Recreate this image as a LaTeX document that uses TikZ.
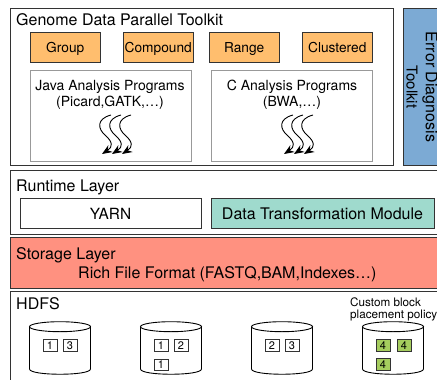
\documentclass[tikz,border=0pt]{standalone}
\usepackage{fontspec}
\setmainfont{TeX Gyre Heros}
\usetikzlibrary{arrows.meta}

\definecolor{toolorange}{HTML}{FFBE6E}
\definecolor{errorblue}{HTML}{7CAAD4}
\definecolor{moduleteal}{HTML}{9FDACD}
\definecolor{storagered}{HTML}{FF9180}
\definecolor{blockgreen}{HTML}{A5CC5E}
\definecolor{edge}{HTML}{333333}

\tikzset{
    layer/.style={draw=edge,line width=1pt,inner sep=0pt,outer sep=0pt,anchor=north west},
    tool/.style={layer,fill=toolorange,minimum width=70.5pt,minimum height=30pt,text height=10.5pt,text depth=0pt,font=\fontsize{13.7}{15}\selectfont},
    prog/.style={draw=gray!80,line width=1pt,inner sep=0pt,outer sep=0pt,anchor=north west,minimum width=161pt,minimum height=91pt},
    title/.style={inner sep=0pt,anchor=base west,font=\fontsize{16}{17}\selectfont},
    caption/.style={inner sep=0pt,anchor=base,font=\fontsize{14}{15}\selectfont},
    small/.style={inner sep=0pt,anchor=base west,font=\fontsize{11.7}{12}\selectfont},
    disk/.style={draw=black,line width=0.9pt},
    block/.style={draw=edge,line width=0.8pt,inner sep=0pt,outer sep=0pt,minimum width=14pt,minimum height=11.5pt,font=\fontsize{11}{11}\selectfont},
    flow/.style={-{Stealth[length=10pt,width=8pt]},line width=0.9pt},
}

\begin{document}
\begin{tikzpicture}[x=1pt,y=-1pt]
    \useasboundingbox (0,0) rectangle (437,380);

    % toolkit
    \node[layer,minimum width=383pt,minimum height=157.5pt] (genome) at (10,8) {};
    \node[layer,fill=errorblue,minimum width=45pt,minimum height=157.5pt] (error) at (403,8) {};
    \node[title] (genomet) at (16,26) {Genome Data Parallel Toolkit};
    \node[rotate=-90,inner sep=0pt,font=\fontsize{16}{17}\selectfont] (errora) at (430,87) {Error Diagnosis};
    \node[rotate=-90,inner sep=0pt,font=\fontsize{15}{17}\selectfont] (errorb) at (412,87) {Toolkit};

    \node[tool] (group) at (30,32) {Group};
    \node[tool] (compound) at (123,32) {Compound};
    \node[tool] (range) at (209,32) {Range};
    \node[tool] (clustered) at (302,32) {Clustered};

    \node[prog] (java) at (30,70) {};
    \node[prog] (cprog) at (211.5,70) {};
    \node[caption] (javaa) at (110,90) {Java Analysis Programs};
    \node[caption] (javab) at (110,106) {(Picard,GATK,…)};
    \node[caption] (ca) at (292,90) {C Analysis Programs};
    \node[caption] (cb) at (292,106) {(BWA,…)};

    % squiggles
    \foreach \n/\x in {a/0,b/10,c/20,d/182,e/192,f/202}{
        \coordinate (s\n) at (111+\x,115);
        \coordinate (t\n) at (102+\x,154);
        \draw[flow] (s\n) .. controls (96+\x,119) and (98+\x,129) .. (105+\x,135)
            .. controls (113+\x,142) and (113+\x,147) .. (t\n);
    }

    % runtime
    \node[layer,minimum width=440pt,minimum height=64pt] (runtime) at (10,170) {};
    \node[title] (runtimet) at (16,191) {Runtime Layer};
    \node[layer,minimum width=181pt,minimum height=30pt,text height=12pt,text depth=0pt,font=\fontsize{15.4}{16}\selectfont] (yarn) at (20,198) {YARN};
    \node[layer,fill=moduleteal,minimum width=223pt,minimum height=30pt,text height=12pt,text depth=0pt,font=\fontsize{16}{17}\selectfont] (trans) at (211,198) {Data Transformation Module};

    % storage
    \node[layer,fill=storagered,minimum width=440pt,minimum height=51pt] (storage) at (10,237) {};
    \node[title] (storaget) at (16,259) {Storage Layer};
    \node[title] (rich) at (78,278) {Rich File Format (FASTQ,BAM,Indexes…)};

    % hdfs
    \node[layer,minimum width=440pt,minimum height=100pt] (hdfs) at (10,291) {};
    \node[title] (hdfst) at (16,309) {HDFS};
    \node[small] (custa) at (350,306) {Custom block};
    \node[small] (custb) at (350,318) {placement policy};

    % disks
    \foreach \x in {60,171,282,393}{
        \draw[disk] (\x,326.7) ellipse [x radius=30.5pt,y radius=5pt];
        \draw[disk] (\x-30.5,326.7) -- (\x-30.5,369)
            .. controls (\x-30.5,376) and (\x+30.5,376) .. (\x+30.5,369) -- (\x+30.5,326.7);
    }

    \node[block] (a1) at (50,345.5) {1};
    \node[block] (a3) at (70,345.5) {3};
    \node[block] (b1) at (161,345.5) {1};
    \node[block] (b2) at (181,345.5) {2};
    \node[block] (b3) at (161,365) {1};
    \node[block] (c2) at (272,345.5) {2};
    \node[block] (c3) at (292,345.5) {3};
    \node[block,fill=blockgreen] (d1) at (383,345.5) {4};
    \node[block,fill=blockgreen] (d2) at (404,345.5) {4};
    \node[block,fill=blockgreen] (d3) at (383,364.5) {4};
\end{tikzpicture}
\end{document}
